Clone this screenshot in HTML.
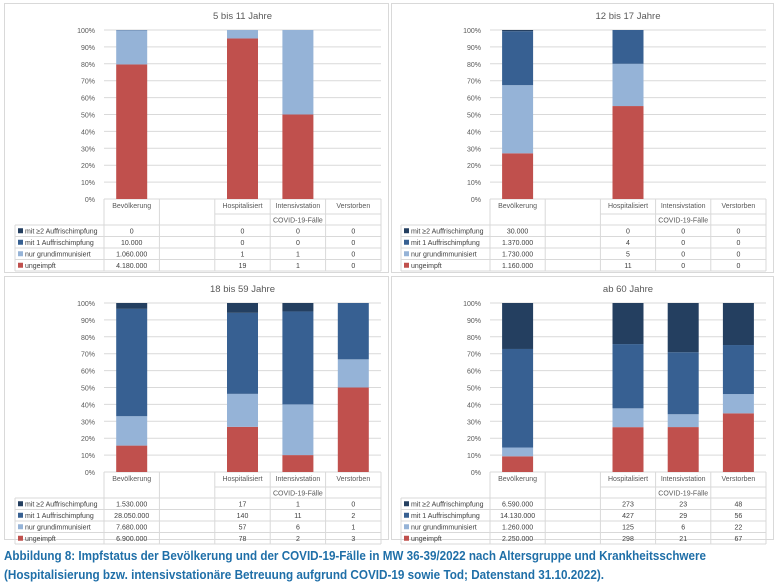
<!DOCTYPE html>
<html><head><meta charset="utf-8"><style>
html,body{margin:0;padding:0;background:#fff}
svg{display:block;font-family:"Liberation Sans",sans-serif}
</style></head><body>
<svg id="s" width="776" height="588" viewBox="0 0 776 588" xmlns="http://www.w3.org/2000/svg">
<text x="4" y="560" font-size="12.5" font-weight="bold" fill="#1f6fa8" textLength="702" lengthAdjust="spacingAndGlyphs">Abbildung 8: Impfstatus der Bevölkerung und der COVID-19-Fälle in MW 36-39/2022 nach Altersgruppe und Krankheitsschwere</text>
<text x="4" y="579" font-size="12.5" font-weight="bold" fill="#1f6fa8" textLength="600" lengthAdjust="spacingAndGlyphs">(Hospitalisierung bzw. intensivstationäre Betreuung aufgrund COVID-19 sowie Tod; Datenstand 31.10.2022).</text>
</svg>
<script>
var NS="http://www.w3.org/2000/svg",S=document.getElementById('s');
function el(t,a,txt){var e=document.createElementNS(NS,t);for(var k in a)e.setAttribute(k,a[k]);if(txt!=null)e.textContent=txt;S.appendChild(e);return e;}
var cols=["#243f60","#376092","#95b3d7","#c0504d"];
var names=["mit ≥2 Auffrischimpfung","mit 1 Auffrischimpfung","nur grundimmunisiert","ungeimpft"];
var cats=["Bevölkerung","","Hospitalisiert","Intensivstation","Verstorben"];
function panel(x0,y0,x1,y1,tl,pl,pr,title,d,ds){
 el('rect',{x:x0+.5,y:y0+.5,width:x1-x0,height:y1-y0,fill:'#fff',stroke:'#d9d9d9'});
 el('text',{x:(pl+pr)/2,y:y0+16,'font-size':9.5,'text-anchor':'middle',fill:'#595959'},title);
 var yt=y0+27,yb=y0+196,h=yb-yt;
 for(var i=0;i<=10;i++){var y=yb-h*i/10;el('line',{x1:pl,x2:pr,y1:y,y2:y,stroke:'#d9d9d9','stroke-width':1});
  el('text',{x:pl-9,y:y+3,'font-size':7,'text-anchor':'end',fill:'#595959'},(i*10)+'%');}
 var cw=(pr-pl)/5,bw=31;
 for(var c=0;c<5;c++){var v=[d[0][c],d[1][c],d[2][c],d[3][c]];if(v[0]==null)continue;
  var tot=ds[c].reduce(function(a,b){return a+b},0);if(!tot)continue;
  var cx=pl+cw*(c+.5),y=yb;
  for(var k=3;k>=0;k--){var hh=h*ds[c][k]/tot;if(hh>0)el('rect',{x:cx-bw/2,y:y-hh,width:bw,height:hh,fill:cols[k]});y-=hh;}}
 // table
 var r0=yb,rh=[15,11,11.5,11.5,11.5,11.5],ys=[r0];for(i=0;i<rh.length;i++)ys.push(ys[i]+rh[i]);
 var g='#d9d9d9';
 for(c=0;c<=5;c++){var x=pl+cw*c;el('line',{x1:x,x2:x,y1:r0,y2:ys[6],stroke:g});}
 el('line',{x1:tl,x2:tl,y1:ys[2],y2:ys[6],stroke:g});
 for(i=2;i<=6;i++)el('line',{x1:tl,x2:pr,y1:ys[i],y2:ys[i],stroke:g});
 el('line',{x1:pl+cw*2,x2:pr,y1:ys[1],y2:ys[1],stroke:g});
 el('line',{x1:pl,x2:pl+cw*2,y1:ys[2],y2:ys[2],stroke:'#fff'});el('line',{x1:pl,x2:pl+cw*2,y1:ys[2],y2:ys[2],stroke:g});
 for(c=0;c<5;c++)if(cats[c])el('text',{x:pl+cw*(c+.5),y:ys[0]+9,'font-size':7,'text-anchor':'middle',fill:'#595959'},cats[c]);
 el('text',{x:pl+cw*3.5,y:ys[1]+8.5,'font-size':7,'text-anchor':'middle',fill:'#595959'},'COVID-19-Fälle');
 for(k=0;k<4;k++){var yy=ys[2+k]+rh[2+k]/2;
  el('rect',{x:tl+3,y:yy-2.5,width:5,height:5,fill:cols[k]});
  el('text',{x:tl+10,y:yy+2.5,'font-size':7,fill:'#404040'},names[k]);
  for(c=0;c<5;c++)if(d[k][c]!=null)el('text',{x:pl+cw*(c+.5),y:yy+2.5,'font-size':7,'text-anchor':'middle',fill:'#404040'},d[k][c]);}
}
function P(x0,y0,x1,y1,tl,pl,pr,t,vals){var d=[],ds=[];
 for(var k=0;k<4;k++){d.push([vals[k][0],null,vals[k][1],vals[k][2],vals[k][3]]);}
 for(var c=0;c<5;c++){var a=[];for(k=0;k<4;k++){var s=d[k][c];a.push(s==null?0:parseFloat(String(s).replace(/\./g,'')));}ds.push(a);}
 panel(x0,y0,x1,y1,tl,pl,pr,t,d,ds);}
P(4,3,388,272,15,104,381,"5 bis 11 Jahre",[["0","0","0","0"],["10.000","0","0","0"],["1.060.000","1","1","0"],["4.180.000","19","1","0"]]);
P(391,3,773,272,401,490,766,"12 bis 17 Jahre",[["30.000","0","0","0"],["1.370.000","4","0","0"],["1.730.000","5","0","0"],["1.160.000","11","0","0"]]);
P(4,276,388,539,15,104,381,"18 bis 59 Jahre",[["1.530.000","17","1","0"],["28.050.000","140","11","2"],["7.680.000","57","6","1"],["6.900.000","78","2","3"]]);
P(391,276,773,539,401,490,766,"ab 60 Jahre",[["6.590.000","273","23","48"],["14.130.000","427","29","56"],["1.260.000","125","6","22"],["2.250.000","298","21","67"]]);
</script>
</body></html>
